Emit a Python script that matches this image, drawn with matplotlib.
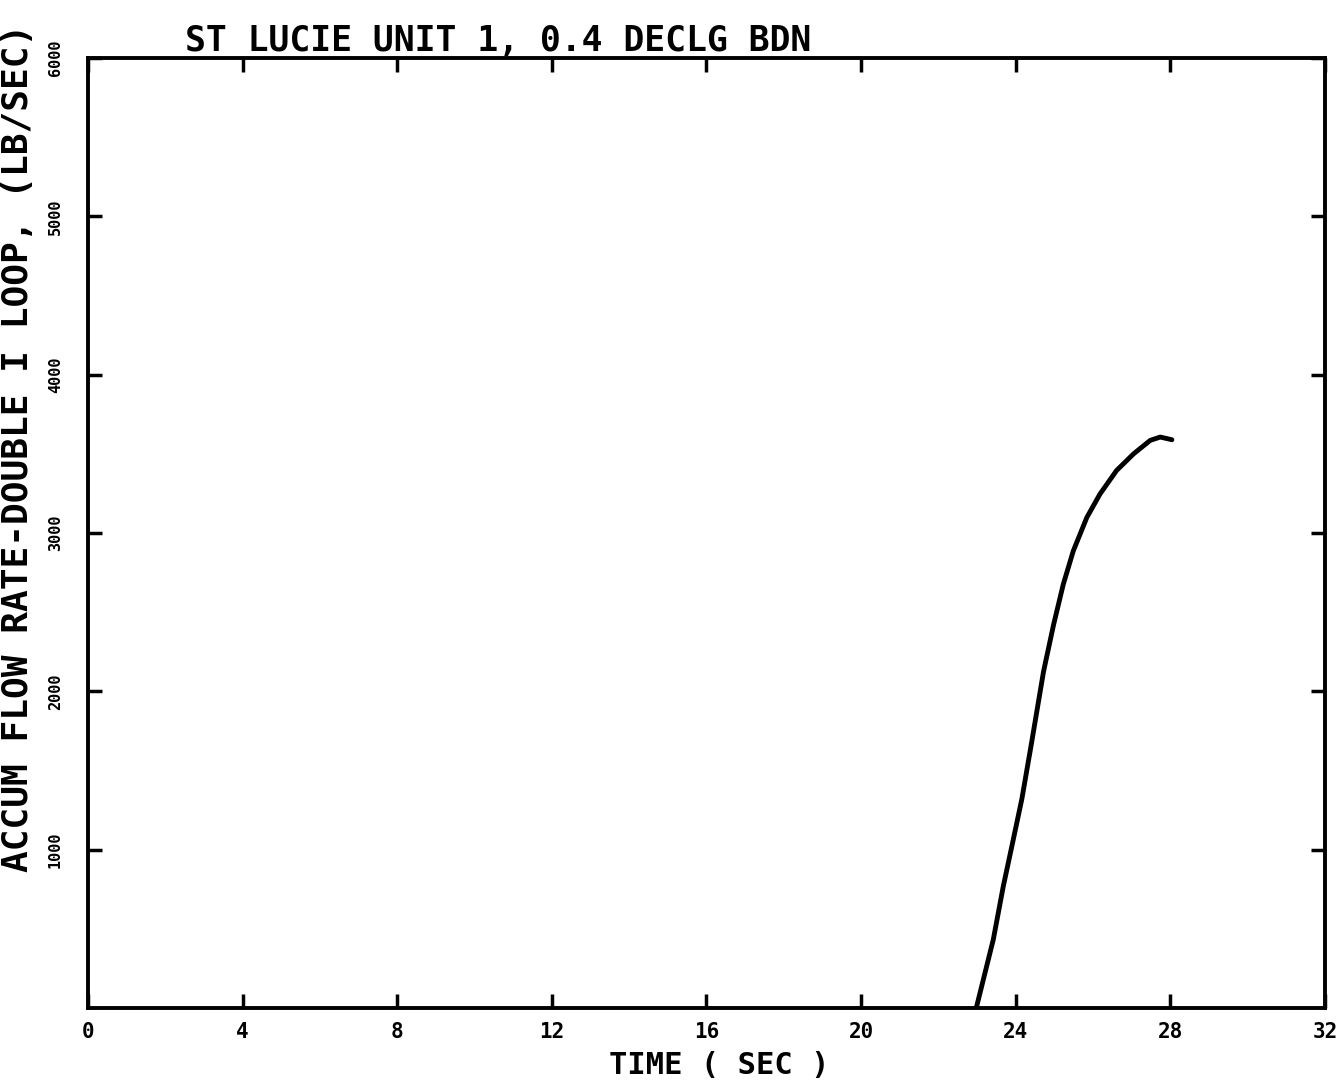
import numpy as np
import matplotlib
matplotlib.use('Agg')
import matplotlib.pyplot as plt

# curve
time_s = [22.98, 23.42, 23.68, 23.94, 24.16, 24.40, 24.72, 24.98, 25.23,
          25.49, 25.84, 26.18, 26.61, 27.05, 27.48, 27.74, 28.04]
flow = [0, 432, 770, 1067, 1321, 1660, 2125, 2421, 2675,
        2887, 3098, 3246, 3395, 3500, 3585, 3606, 3589]

x_ticks = [0, 4, 8, 12, 16, 20, 24, 28, 32]
y_ticks = [1000, 2000, 3000, 4000, 5000, 6000]

plt.rcParams['font.family'] = ['DejaVu Sans Mono', 'DejaVu Sans']

fig = plt.figure(figsize=(13.39, 10.86), dpi=100)
ax = fig.add_axes([0.0657, 0.0718, 0.9238, 0.8748])

ax.plot(time_s, flow, color='black', lw=3.5, solid_capstyle='round',
        solid_joinstyle='round')

ax.set_xlim(0, 32)
ax.set_ylim(0, 6000)
ax.set_xticks(x_ticks)
ax.set_xticklabels([str(t) for t in x_ticks], fontsize=15, fontweight='bold')
ax.set_yticks(y_ticks)
ax.set_yticklabels([str(v) for v in y_ticks], fontsize=11, fontweight='bold',
                   rotation=90, va='center')

ax.tick_params(direction='in', length=10, width=2.5, top=True, right=True,
               labeltop=False, labelright=False, pad=10)
ax.tick_params(axis='y', pad=18)
for s in ax.spines.values():
    s.set_linewidth(2.8)

ax.set_xlabel('TIME ( SEC )', fontsize=22, fontweight='bold', labelpad=2)
ax.xaxis.set_label_coords(0.51, -0.045)
ax.set_ylabel('ACCUM FLOW RATE-DOUBLE I LOOP, (LB/SEC)', fontsize=26,
              fontweight='bold', labelpad=2)
ax.yaxis.set_label_coords(-0.043, 0.59)

fig.text(0.138, 0.962, 'ST LUCIE UNIT 1, 0.4 DECLG BDN', fontsize=25,
         fontweight='bold', ha='left', va='center')

fig.savefig('out.png', dpi=100, facecolor='white')
